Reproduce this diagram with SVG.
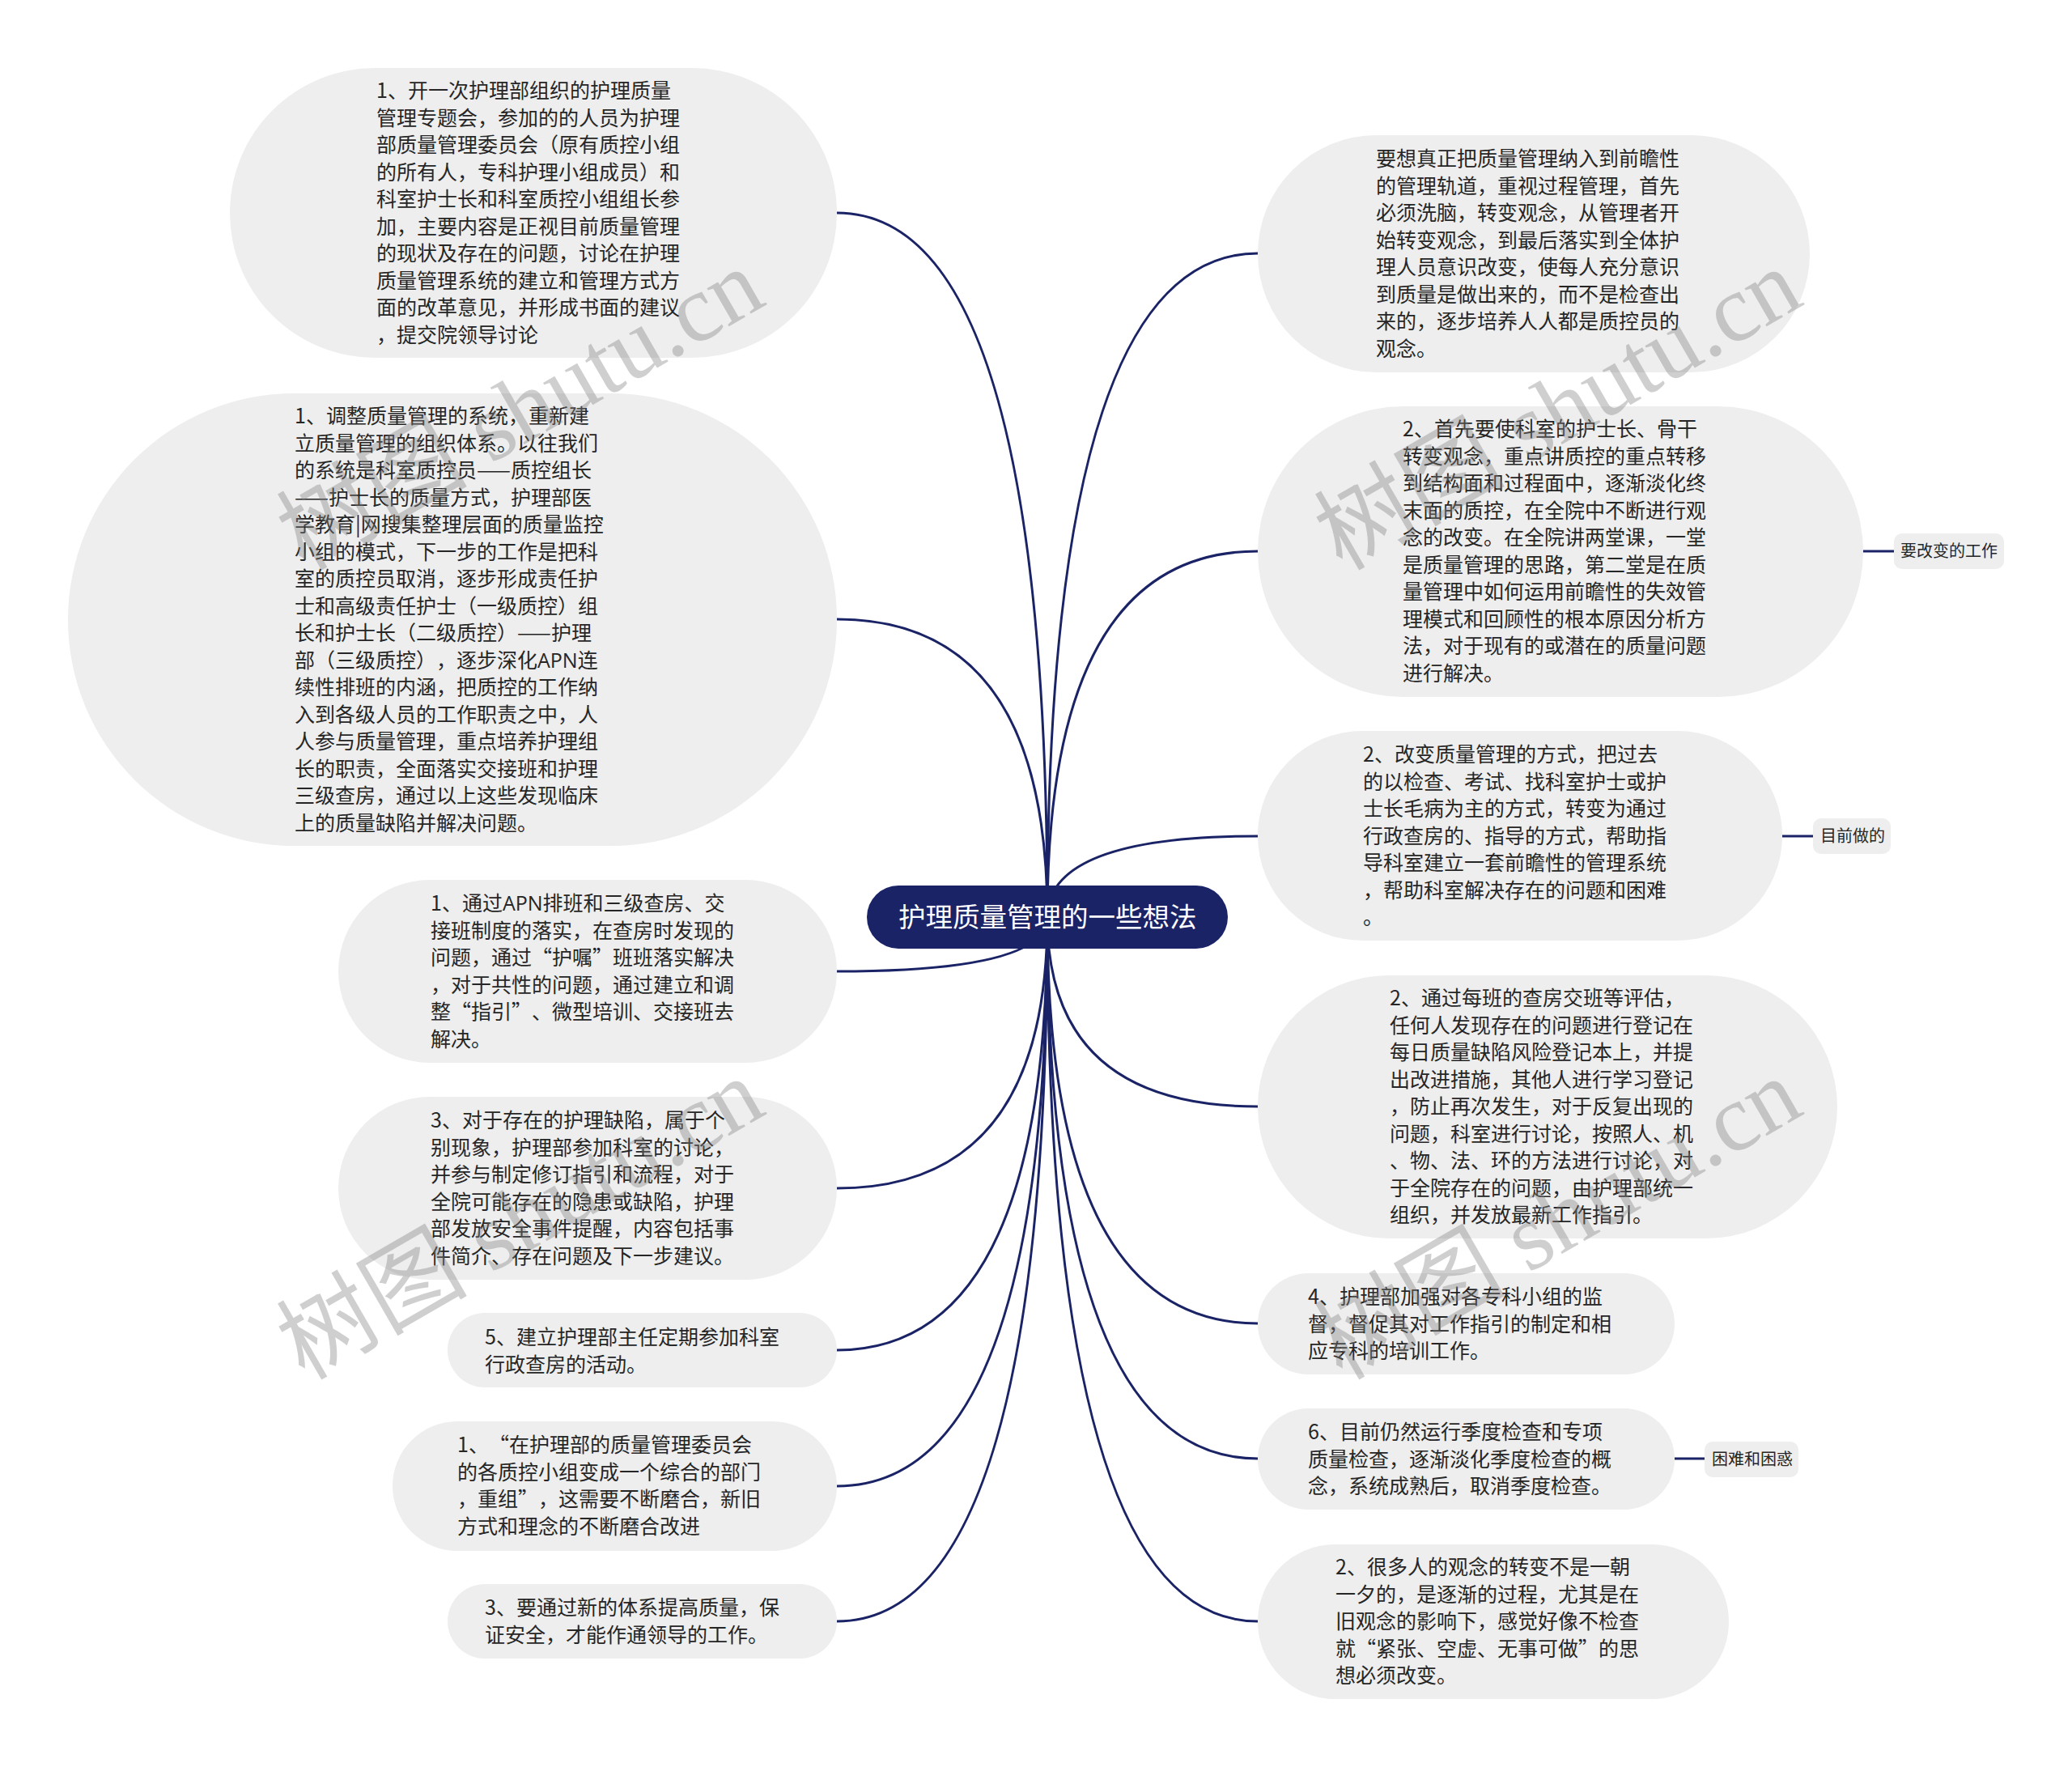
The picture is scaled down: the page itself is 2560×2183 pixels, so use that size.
<svg xmlns="http://www.w3.org/2000/svg" width="2560" height="2183" viewBox="0 0 2560 2183">
<style>
.n{fill:#eeeeee}
.c{fill:none;stroke:#1a2366;stroke-width:3}
text{font-family:"Noto Sans CJK SC","Noto Sans",sans-serif;fill:#262626;text-spacing-trim:space-all}
.t{font-size:25px}
.l{font-size:20px}
.m{font-size:33.5px;fill:#ffffff}
.a{font-family:"Open Sans","Noto Sans",sans-serif}
.w{font-family:"Liberation Serif","Noto Sans CJK SC",serif;font-size:118px;fill:#808080;fill-opacity:.38}
</style>
<rect width="2560" height="2183" fill="#ffffff"/>
<g id="connectors">
<path class="c" d="M1294 1133Q1294 263 1034 263"/>
<path class="c" d="M1294 1133Q1294 765 1034 765"/>
<path class="c" d="M1294 1133Q1294 1200 1034 1200"/>
<path class="c" d="M1294 1133Q1294 1468 1034 1468"/>
<path class="c" d="M1294 1133Q1294 1668 1034 1668"/>
<path class="c" d="M1294 1133Q1294 1836 1034 1836"/>
<path class="c" d="M1294 1133Q1294 2003 1034 2003"/>
<path class="c" d="M1294 1133Q1294 313 1554 313"/>
<path class="c" d="M1294 1133Q1294 681 1554 681"/>
<path class="c" d="M1294 1133Q1294 1033 1554 1033"/>
<path class="c" d="M1294 1133Q1294 1367 1554 1367"/>
<path class="c" d="M1294 1133Q1294 1635 1554 1635"/>
<path class="c" d="M1294 1133Q1294 1802 1554 1802"/>
<path class="c" d="M1294 1133Q1294 2003 1554 2003"/>
<path class="c" d="M2302 681H2340"/>
<path class="c" d="M2202 1033H2240"/>
<path class="c" d="M2069 1802H2106"/>
</g>
<g id="root"><rect x="1071" y="1094" width="446" height="78" rx="39" fill="#1a2366"/>
<text class="m" x="1110" y="1145">护理质量管理的一些想法</text></g>
<g id="n1"><rect class="n" x="284" y="84" width="750" height="358" rx="179"/>
<text class="t"><tspan x="465" y="121">1、开一次护理部组织的护理质量</tspan><tspan x="465" dy="33.5">管理专题会，参加的的人员为护理</tspan><tspan x="465" dy="33.5">部质量管理委员会（原有质控小组</tspan><tspan x="465" dy="33.5">的所有人，专科护理小组成员）和</tspan><tspan x="465" dy="33.5">科室护士长和科室质控小组组长参</tspan><tspan x="465" dy="33.5">加，主要内容是正视目前质量管理</tspan><tspan x="465" dy="33.5">的现状及存在的问题，讨论在护理</tspan><tspan x="465" dy="33.5">质量管理系统的建立和管理方式方</tspan><tspan x="465" dy="33.5">面的改革意见，并形成书面的建议</tspan><tspan x="465" dy="33.5">，提交院领导讨论</tspan></text></g>
<g id="n2"><rect class="n" x="84" y="486" width="950" height="559" rx="279.5"/>
<text class="t"><tspan x="364" y="523">1、调整质量管理的系统，重新建</tspan><tspan x="364" dy="33.5">立质量管理的组织体系。以往我们</tspan><tspan x="364" dy="33.5">的系统是科室质控员——质控组长</tspan><tspan x="364" dy="33.5">——护士长的质量方式，护理部医</tspan><tspan x="364" dy="33.5">学教育|网搜集整理层面的质量监控</tspan><tspan x="364" dy="33.5">小组的模式，下一步的工作是把科</tspan><tspan x="364" dy="33.5">室的质控员取消，逐步形成责任护</tspan><tspan x="364" dy="33.5">士和高级责任护士（一级质控）组</tspan><tspan x="364" dy="33.5">长和护士长（二级质控）——护理</tspan><tspan x="364" dy="33.5">部（三级质控），逐步深化<tspan class="a">APN</tspan>连</tspan><tspan x="364" dy="33.5">续性排班的内涵，把质控的工作纳</tspan><tspan x="364" dy="33.5">入到各级人员的工作职责之中，人</tspan><tspan x="364" dy="33.5">人参与质量管理，重点培养护理组</tspan><tspan x="364" dy="33.5">长的职责，全面落实交接班和护理</tspan><tspan x="364" dy="33.5">三级查房，通过以上这些发现临床</tspan><tspan x="364" dy="33.5">上的质量缺陷并解决问题。</tspan></text></g>
<g id="n3"><rect class="n" x="418" y="1087" width="616" height="226" rx="113"/>
<text class="t"><tspan x="532" y="1125">1、通过<tspan class="a">APN</tspan>排班和三级查房、交</tspan><tspan x="532" dy="33.5">接班制度的落实，在查房时发现的</tspan><tspan x="532" dy="33.5">问题，通过“护嘱”班班落实解决</tspan><tspan x="532" dy="33.5">，对于共性的问题，通过建立和调</tspan><tspan x="532" dy="33.5">整“指引”、微型培训、交接班去</tspan><tspan x="532" dy="33.5">解决。</tspan></text></g>
<g id="n4"><rect class="n" x="418" y="1355" width="616" height="226" rx="113"/>
<text class="t"><tspan x="532" y="1393">3、对于存在的护理缺陷，属于个</tspan><tspan x="532" dy="33.5">别现象，护理部参加科室的讨论，</tspan><tspan x="532" dy="33.5">并参与制定修订指引和流程，对于</tspan><tspan x="532" dy="33.5">全院可能存在的隐患或缺陷，护理</tspan><tspan x="532" dy="33.5">部发放安全事件提醒，内容包括事</tspan><tspan x="532" dy="33.5">件简介、存在问题及下一步建议。</tspan></text></g>
<g id="n5"><rect class="n" x="553" y="1622" width="481" height="92" rx="46"/>
<text class="t"><tspan x="599" y="1661">5、建立护理部主任定期参加科室</tspan><tspan x="599" dy="33.5">行政查房的活动。</tspan></text></g>
<g id="n6"><rect class="n" x="485" y="1756" width="549" height="160" rx="80"/>
<text class="t"><tspan x="565" y="1794">1、“在护理部的质量管理委员会</tspan><tspan x="565" dy="33.5">的各质控小组变成一个综合的部门</tspan><tspan x="565" dy="33.5">，重组”，这需要不断磨合，新旧</tspan><tspan x="565" dy="33.5">方式和理念的不断磨合改进</tspan></text></g>
<g id="n7"><rect class="n" x="553" y="1957" width="481" height="92" rx="46"/>
<text class="t"><tspan x="599" y="1995">3、要通过新的体系提高质量，保</tspan><tspan x="599" dy="33.5">证安全，才能作通领导的工作。</tspan></text></g>
<g id="r1"><rect class="n" x="1554" y="167" width="682" height="293" rx="146.5"/>
<text class="t"><tspan x="1700" y="205">要想真正把质量管理纳入到前瞻性</tspan><tspan x="1700" dy="33.5">的管理轨道，重视过程管理，首先</tspan><tspan x="1700" dy="33.5">必须洗脑，转变观念，从管理者开</tspan><tspan x="1700" dy="33.5">始转变观念，到最后落实到全体护</tspan><tspan x="1700" dy="33.5">理人员意识改变，使每人充分意识</tspan><tspan x="1700" dy="33.5">到质量是做出来的，而不是检查出</tspan><tspan x="1700" dy="33.5">来的，逐步培养人人都是质控员的</tspan><tspan x="1700" dy="33.5">观念。</tspan></text></g>
<g id="r2"><rect class="n" x="1554" y="502" width="748" height="359" rx="179.5"/>
<text class="t"><tspan x="1733" y="539">2、首先要使科室的护士长、骨干</tspan><tspan x="1733" dy="33.5">转变观念，重点讲质控的重点转移</tspan><tspan x="1733" dy="33.5">到结构面和过程面中，逐渐淡化终</tspan><tspan x="1733" dy="33.5">末面的质控，在全院中不断进行观</tspan><tspan x="1733" dy="33.5">念的改变。在全院讲两堂课，一堂</tspan><tspan x="1733" dy="33.5">是质量管理的思路，第二堂是在质</tspan><tspan x="1733" dy="33.5">量管理中如何运用前瞻性的失效管</tspan><tspan x="1733" dy="33.5">理模式和回顾性的根本原因分析方</tspan><tspan x="1733" dy="33.5">法，对于现有的或潜在的质量问题</tspan><tspan x="1733" dy="33.5">进行解决。</tspan></text></g>
<g id="r2a"><rect class="n" x="2340" y="659" width="136" height="44" rx="10"/><text class="l" x="2348" y="688">要改变的工作</text></g>
<g id="r3"><rect class="n" x="1554" y="903" width="648" height="259" rx="129.5"/>
<text class="t"><tspan x="1684" y="941">2、改变质量管理的方式，把过去</tspan><tspan x="1684" dy="33.5">的以检查、考试、找科室护士或护</tspan><tspan x="1684" dy="33.5">士长毛病为主的方式，转变为通过</tspan><tspan x="1684" dy="33.5">行政查房的、指导的方式，帮助指</tspan><tspan x="1684" dy="33.5">导科室建立一套前瞻性的管理系统</tspan><tspan x="1684" dy="33.5">，帮助科室解决存在的问题和困难</tspan><tspan x="1684" dy="33.5">。</tspan></text></g>
<g id="r3a"><rect class="n" x="2240" y="1011" width="96" height="44" rx="10"/><text class="l" x="2249" y="1040">目前做的</text></g>
<g id="r4"><rect class="n" x="1554" y="1205" width="716" height="325" rx="162.5"/>
<text class="t"><tspan x="1717" y="1242">2、通过每班的查房交班等评估，</tspan><tspan x="1717" dy="33.5">任何人发现存在的问题进行登记在</tspan><tspan x="1717" dy="33.5">每日质量缺陷风险登记本上，并提</tspan><tspan x="1717" dy="33.5">出改进措施，其他人进行学习登记</tspan><tspan x="1717" dy="33.5">，防止再次发生，对于反复出现的</tspan><tspan x="1717" dy="33.5">问题，科室进行讨论，按照人、机</tspan><tspan x="1717" dy="33.5">、物、法、环的方法进行讨论，对</tspan><tspan x="1717" dy="33.5">于全院存在的问题，由护理部统一</tspan><tspan x="1717" dy="33.5">组织，并发放最新工作指引。</tspan></text></g>
<g id="r5"><rect class="n" x="1554" y="1573" width="515" height="125" rx="62.5"/>
<text class="t"><tspan x="1616" y="1611">4、护理部加强对各专科小组的监</tspan><tspan x="1616" dy="33.5">督，督促其对工作指引的制定和相</tspan><tspan x="1616" dy="33.5">应专科的培训工作。</tspan></text></g>
<g id="r6"><rect class="n" x="1554" y="1740" width="515" height="125" rx="62.5"/>
<text class="t"><tspan x="1616" y="1778">6、目前仍然运行季度检查和专项</tspan><tspan x="1616" dy="33.5">质量检查，逐渐淡化季度检查的概</tspan><tspan x="1616" dy="33.5">念，系统成熟后，取消季度检查。</tspan></text></g>
<g id="r6a"><rect class="n" x="2106" y="1781" width="116" height="44" rx="10"/><text class="l" x="2115" y="1810">困难和困惑</text></g>
<g id="r7"><rect class="n" x="1554" y="1908" width="582" height="191" rx="95.5"/>
<text class="t"><tspan x="1650" y="1945">2、很多人的观念的转变不是一朝</tspan><tspan x="1650" dy="33.5">一夕的，是逐渐的过程，尤其是在</tspan><tspan x="1650" dy="33.5">旧观念的影响下，感觉好像不检查</tspan><tspan x="1650" dy="33.5">就“紧张、空虚、无事可做”的思</tspan><tspan x="1650" dy="33.5">想必须改变。</tspan></text></g>
<g id="watermarks">
<text class="w" transform="translate(376 706) rotate(-30)">树图 shutu.cn</text>
<text class="w" transform="translate(1658 706) rotate(-30)">树图 shutu.cn</text>
<text class="w" transform="translate(376 1706) rotate(-30)">树图 shutu.cn</text>
<text class="w" transform="translate(1658 1706) rotate(-30)">树图 shutu.cn</text>
</g>
</svg>
